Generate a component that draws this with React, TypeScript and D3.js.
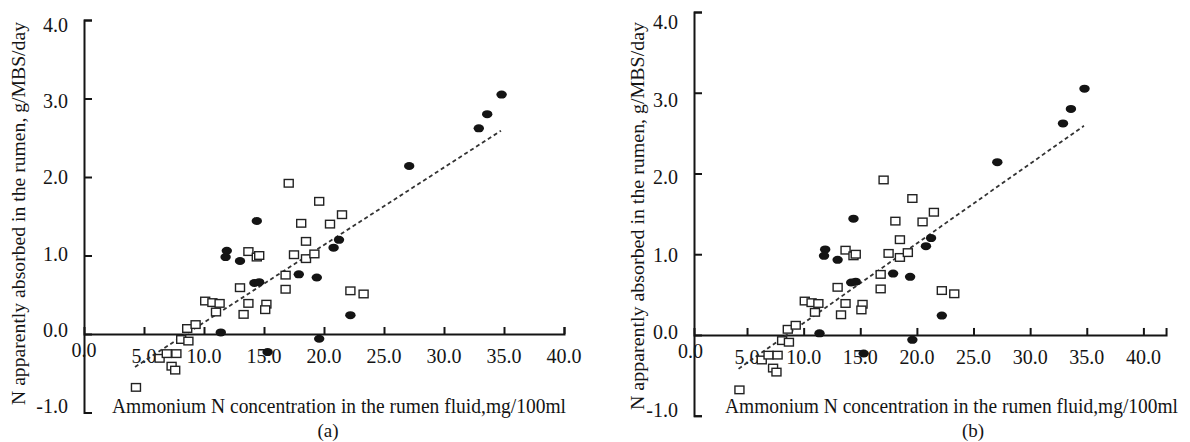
import React, { useEffect, useRef } from "react";
import * as d3 from "d3";

// tick values
const xTicks = [5, 10, 15, 20, 25, 30, 35, 40];
const xLabelTicks = [0, 5, 10, 15, 20, 25, 30, 35, 40];
const yTicks = [-1, 0, 1, 2, 3, 4];

// filled circles (ammonium N, N absorbed)
const circleX = [27.1, 32.9, 33.6, 34.8, 14.4, 11.9, 11.8, 13.0, 14.2, 14.6, 11.4, 15.3, 21.25, 20.8, 17.9, 19.4, 22.2, 19.6];
const circleY = [2.14, 2.62, 2.8, 3.05, 1.44, 1.06, 0.98, 0.93, 0.65, 0.66, 0.02, -0.23, 1.2, 1.1, 0.76, 0.72, 0.24, -0.06];

// open squares
const squareX = [4.33, 6.3, 6.9, 7.7, 7.3, 7.6, 8.1, 8.7, 8.6, 9.3, 10.1, 10.7, 11.3, 11.0, 13.0, 13.7, 13.3, 15.2, 15.1, 13.7, 14.4, 14.6, 16.8, 16.8, 17.5, 18.5, 19.2, 18.5, 18.1, 20.5, 21.5, 19.6, 17.06, 22.2, 23.3];
const squareY = [-0.68, -0.31, -0.25, -0.25, -0.41, -0.46, -0.07, -0.09, 0.07, 0.12, 0.42, 0.4, 0.39, 0.28, 0.59, 0.39, 0.25, 0.38, 0.31, 1.05, 0.98, 1.0, 0.75, 0.57, 1.01, 0.96, 1.02, 1.18, 1.41, 1.4, 1.52, 1.69, 1.92, 0.55, 0.51];

// dotted trend line end points
const trendX = [4.25, 34.75];
const trendY = [-0.42, 2.59];

const yTitle = "N apparently absorbed in the rumen, g/MBS/day";
const xTitle = "Ammonium N concentration in the rumen fluid,mg/100ml";

const panels = [
  {
    label: "(a)", xRange: [84, 564], yRange: [412.5, 20], xAxisMax: 40, yAxisX: 84,
    yLabelRange: [413, 32], yLabelX: 68, xLabelY: 363,
    yTitleX: 25, yTitleTop: 22, yTitleBottom: 405,
    xTitleStart: 112, xTitleEnd: 566, xTitleY: 413, subX: 328, subY: 437,
  },
  {
    label: "(b)", xRange: [690.4, 1143.4], yRange: [415.7, 12], xAxisMax: 42, yAxisX: 694,
    yLabelRange: [417, 29], yLabelX: 678, xLabelY: 364,
    yTitleX: 644, yTitleTop: 22, yTitleBottom: 410,
    xTitleStart: 725, xTitleEnd: 1178, xTitleY: 413, subX: 973, subY: 437,
  },
];

const ink = "#141414";
const font = "'Liberation Serif', 'DejaVu Serif', serif";

export default function App() {
  const ref = useRef<SVGSVGElement>(null);

  useEffect(() => {
    const svg = d3.select(ref.current);
    svg.selectAll("*").remove();

    panels.forEach((p) => {
      const g = svg.append("g");
      const x = d3.scaleLinear().domain([0, 40]).range(p.xRange);
      const y = d3.scaleLinear().domain([-1, 4]).range(p.yRange);
      const yLab = d3.scaleLinear().domain([-1, 4]).range(p.yLabelRange);
      const xStart = x.invert(p.yAxisX);
      const xAxisScale = d3.scaleLinear().domain([xStart, p.xAxisMax]).range([p.yAxisX, x(p.xAxisMax)]);

      // y axis, ticks pointing inward
      const ya = g.append("g")
        .attr("transform", `translate(${p.yAxisX},0)`)
        .call(d3.axisLeft(y).tickValues(yTicks).tickSizeInner(-8).tickSizeOuter(-8).tickFormat(() => ""));
      // x axis on the zero line, ticks pointing up
      const xa = g.append("g")
        .attr("transform", `translate(0,${y(0)})`)
        .call(d3.axisBottom(xAxisScale).tickValues(xTicks).tickSizeInner(-7).tickSizeOuter(-7).tickFormat(() => ""));
      [ya, xa].forEach((a) => {
        a.select(".domain").attr("stroke", ink).attr("stroke-width", 2);
        a.selectAll(".tick line").attr("stroke", ink).attr("stroke-width", 2);
      });

      g.selectAll(".ylab").data(yTicks).join("text")
        .attr("x", p.yLabelX)
        .attr("y", (d) => yLab(d))
        .attr("text-anchor", "end")
        .attr("font-family", font)
        .attr("font-size", 20)
        .attr("fill", ink)
        .text((d) => d.toFixed(1));

      g.selectAll(".xlab").data(xLabelTicks).join("text")
        .attr("x", (d) => x(d))
        .attr("y", (d) => (d === 0 ? p.xLabelY - 6 : p.xLabelY))
        .attr("text-anchor", "middle")
        .attr("font-family", font)
        .attr("font-size", 20)
        .attr("fill", ink)
        .text((d) => d.toFixed(1));

      // titles
      g.append("text")
        .attr("transform", `translate(${p.yTitleX},${p.yTitleBottom}) rotate(-90)`)
        .attr("font-family", font)
        .attr("font-size", 19)
        .attr("fill", ink)
        .attr("textLength", p.yTitleBottom - p.yTitleTop)
        .attr("lengthAdjust", "spacingAndGlyphs")
        .text(yTitle);

      g.append("text")
        .attr("x", p.xTitleStart)
        .attr("y", p.xTitleY)
        .attr("font-family", font)
        .attr("font-size", 20)
        .attr("fill", ink)
        .attr("textLength", p.xTitleEnd - p.xTitleStart)
        .attr("lengthAdjust", "spacingAndGlyphs")
        .text(xTitle);

      g.append("text")
        .attr("x", p.subX)
        .attr("y", p.subY)
        .attr("text-anchor", "middle")
        .attr("font-family", font)
        .attr("font-size", 19)
        .attr("fill", ink)
        .text(p.label);

      // trend line
      const line = d3.line<number>().x((d) => x(d)).y((_, i) => y(trendY[i]));
      g.append("path")
        .attr("d", line(trendX))
        .attr("fill", "none")
        .attr("stroke", "#333")
        .attr("stroke-width", 1.8)
        .attr("stroke-dasharray", "4,3");

      // open squares
      g.selectAll(".sq").data(squareX).join("rect")
        .attr("x", (d) => x(d) - 4.5)
        .attr("y", (_, i) => y(squareY[i]) - 3.8)
        .attr("width", 9)
        .attr("height", 7.6)
        .attr("fill", "white")
        .attr("stroke", "#222")
        .attr("stroke-width", 1.4);

      // filled circles
      g.selectAll(".dot").data(circleX).join("ellipse")
        .attr("cx", (d) => x(d))
        .attr("cy", (_, i) => y(circleY[i]))
        .attr("rx", 5.2)
        .attr("ry", 4)
        .attr("fill", ink);
    });
  }, []);

  return (
    <svg
      ref={ref}
      width={1190}
      height={442}
      style={{ position: "absolute", left: 0, top: 0, background: "white" }}
    />
  );
}
